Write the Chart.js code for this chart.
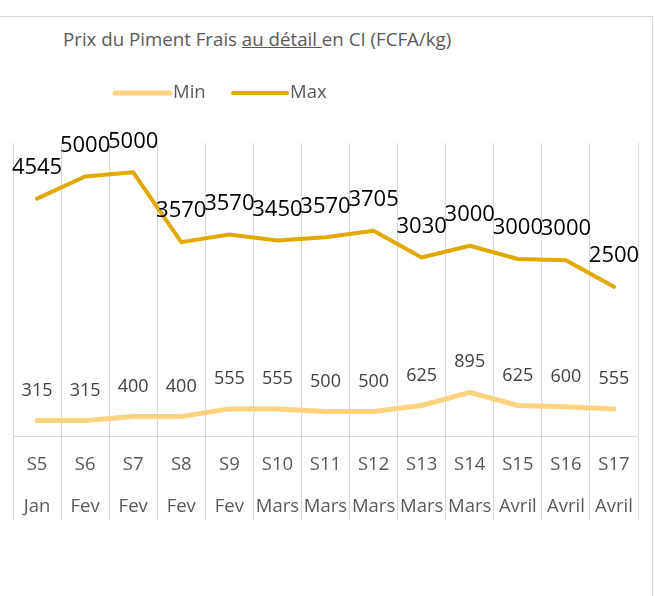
<!DOCTYPE html>
<html lang="fr">
<head>
    <meta charset="UTF-8">
    <title>Prix du Piment Frais au détail en CI</title>
    <script src="https://cdn.jsdelivr.net/npm/chart.js"></script>
    <style>
        body {
            margin: 0;
            width: 655px;
            height: 596px;
            overflow: hidden;
            background: #fff;
            font-family: 'Open Sans', sans-serif;
        }
        .frame {
            position: absolute;
            left: -1px;
            top: 16px;
            width: 652px;
            height: 600px;
            border: 1px solid #d9d9d9;
        }
        .chart-title {
            position: absolute;
            left: 63px;
            top: 26px;
            font-size: 18.7px;
            color: #595959;
            white-space: nowrap;
        }
        .chart-box {
            position: absolute;
            left: 0;
            top: 0;
            width: 655px;
            height: 596px;
        }
    </style>
</head>
<body>
    <div class="frame"></div>
    <div class="chart-title">Prix du Piment Frais <u>au détail </u>en CI (FCFA/kg)</div>
    <div class="chart-box"><canvas id="pimentChart"></canvas></div>
    <script>
        const semaines = ['S5', 'S6', 'S7', 'S8', 'S9', 'S10', 'S11', 'S12', 'S13', 'S14', 'S15', 'S16', 'S17'];
        const mois = ['Jan', 'Fev', 'Fev', 'Fev', 'Fev', 'Mars', 'Mars', 'Mars', 'Mars', 'Mars', 'Avril', 'Avril', 'Avril'];
        const prixMin = [315, 315, 400, 400, 555, 555, 500, 500, 625, 895, 625, 600, 555];
        const prixMax = [4545, 5000, 5000, 3570, 3570, 3450, 3570, 3705, 3030, 3000, 3000, 3000, 2500];

        const couleurMin = '#FFD280';
        const couleurMax = '#E0A800';

        // labels above each point + the legend (drawn by hand to place it like the original)
        const etiquettes = {
            id: 'etiquettes',
            afterDatasetsDraw(chart) {
                const ctx = chart.ctx;
                ctx.save();
                ctx.textAlign = 'center';
                ctx.textBaseline = 'middle';
                chart.data.datasets.forEach((ds, i) => {
                    const meta = chart.getDatasetMeta(i);
                    ctx.font = ds.labelFont;
                    ctx.fillStyle = ds.labelColor;
                    meta.data.forEach((pt, j) => {
                        ctx.fillText(String(ds.data[j]), pt.x, pt.y - ds.labelOffset);
                    });
                });
                ctx.restore();
            },
            afterDraw(chart) {
                const ctx = chart.ctx;
                const y = 93;
                ctx.save();
                ctx.lineCap = 'round';
                ctx.font = "18.5px 'Open Sans'";
                ctx.fillStyle = '#595959';
                ctx.textBaseline = 'middle';
                ctx.textAlign = 'left';
                [[115, 170, couleurMin, 5, 'Min'], [233, 287, couleurMax, 4, 'Max']].forEach(([x0, x1, c, w, t]) => {
                    ctx.strokeStyle = c;
                    ctx.lineWidth = w;
                    ctx.beginPath();
                    ctx.moveTo(x0, y);
                    ctx.lineTo(x1, y);
                    ctx.stroke();
                    ctx.fillText(t, x1 + 3, y);
                });
                ctx.restore();
            }
        };

        const ctx = document.getElementById('pimentChart').getContext('2d');
        new Chart(ctx, {
            type: 'line',
            data: {
                labels: semaines.map((s, i) => [s, mois[i]]),
                datasets: [
                    {
                        label: 'Min',
                        data: prixMin,
                        borderColor: couleurMin,
                        backgroundColor: couleurMin,
                        borderWidth: 5,
                        pointRadius: 0,
                        tension: 0,
                        borderCapStyle: 'round',
                        borderJoinStyle: 'round',
                        labelFont: "18px 'Open Sans'",
                        labelColor: '#404040',
                        labelOffset: 30
                    },
                    {
                        label: 'Max',
                        data: prixMax,
                        borderColor: couleurMax,
                        backgroundColor: couleurMax,
                        borderWidth: 4,
                        pointRadius: 0,
                        tension: 0,
                        borderCapStyle: 'round',
                        borderJoinStyle: 'round',
                        labelFont: "22px 'Open Sans'",
                        labelColor: '#000000',
                        labelOffset: 31
                    }
                ]
            },
            options: {
                responsive: true,
                maintainAspectRatio: false,
                animation: false,
                layout: {
                    padding: { left: 13, right: 17, top: 143, bottom: 0 }
                },
                scales: {
                    x: {
                        offset: true,
                        grid: {
                            offset: true,
                            color: '#d9d9d9',
                            lineWidth: 1,
                            tickLength: 84
                        },
                        border: { color: '#d9d9d9' },
                        ticks: {
                            padding: -76,
                            maxRotation: 0,
                            autoSkip: false,
                            color: '#595959',
                            font: { family: "'Open Sans'", size: 18.5, lineHeight: '42px' }
                        },
                        afterFit(scale) {
                            scale.height = 160;
                        }
                    },
                    y: {
                        display: false,
                        stacked: true,
                        min: 0,
                        max: 6000
                    }
                },
                plugins: {
                    legend: { display: false },
                    title: { display: false },
                    tooltip: { enabled: false }
                }
            },
            plugins: [etiquettes]
        });
    </script>
</body>
</html>
